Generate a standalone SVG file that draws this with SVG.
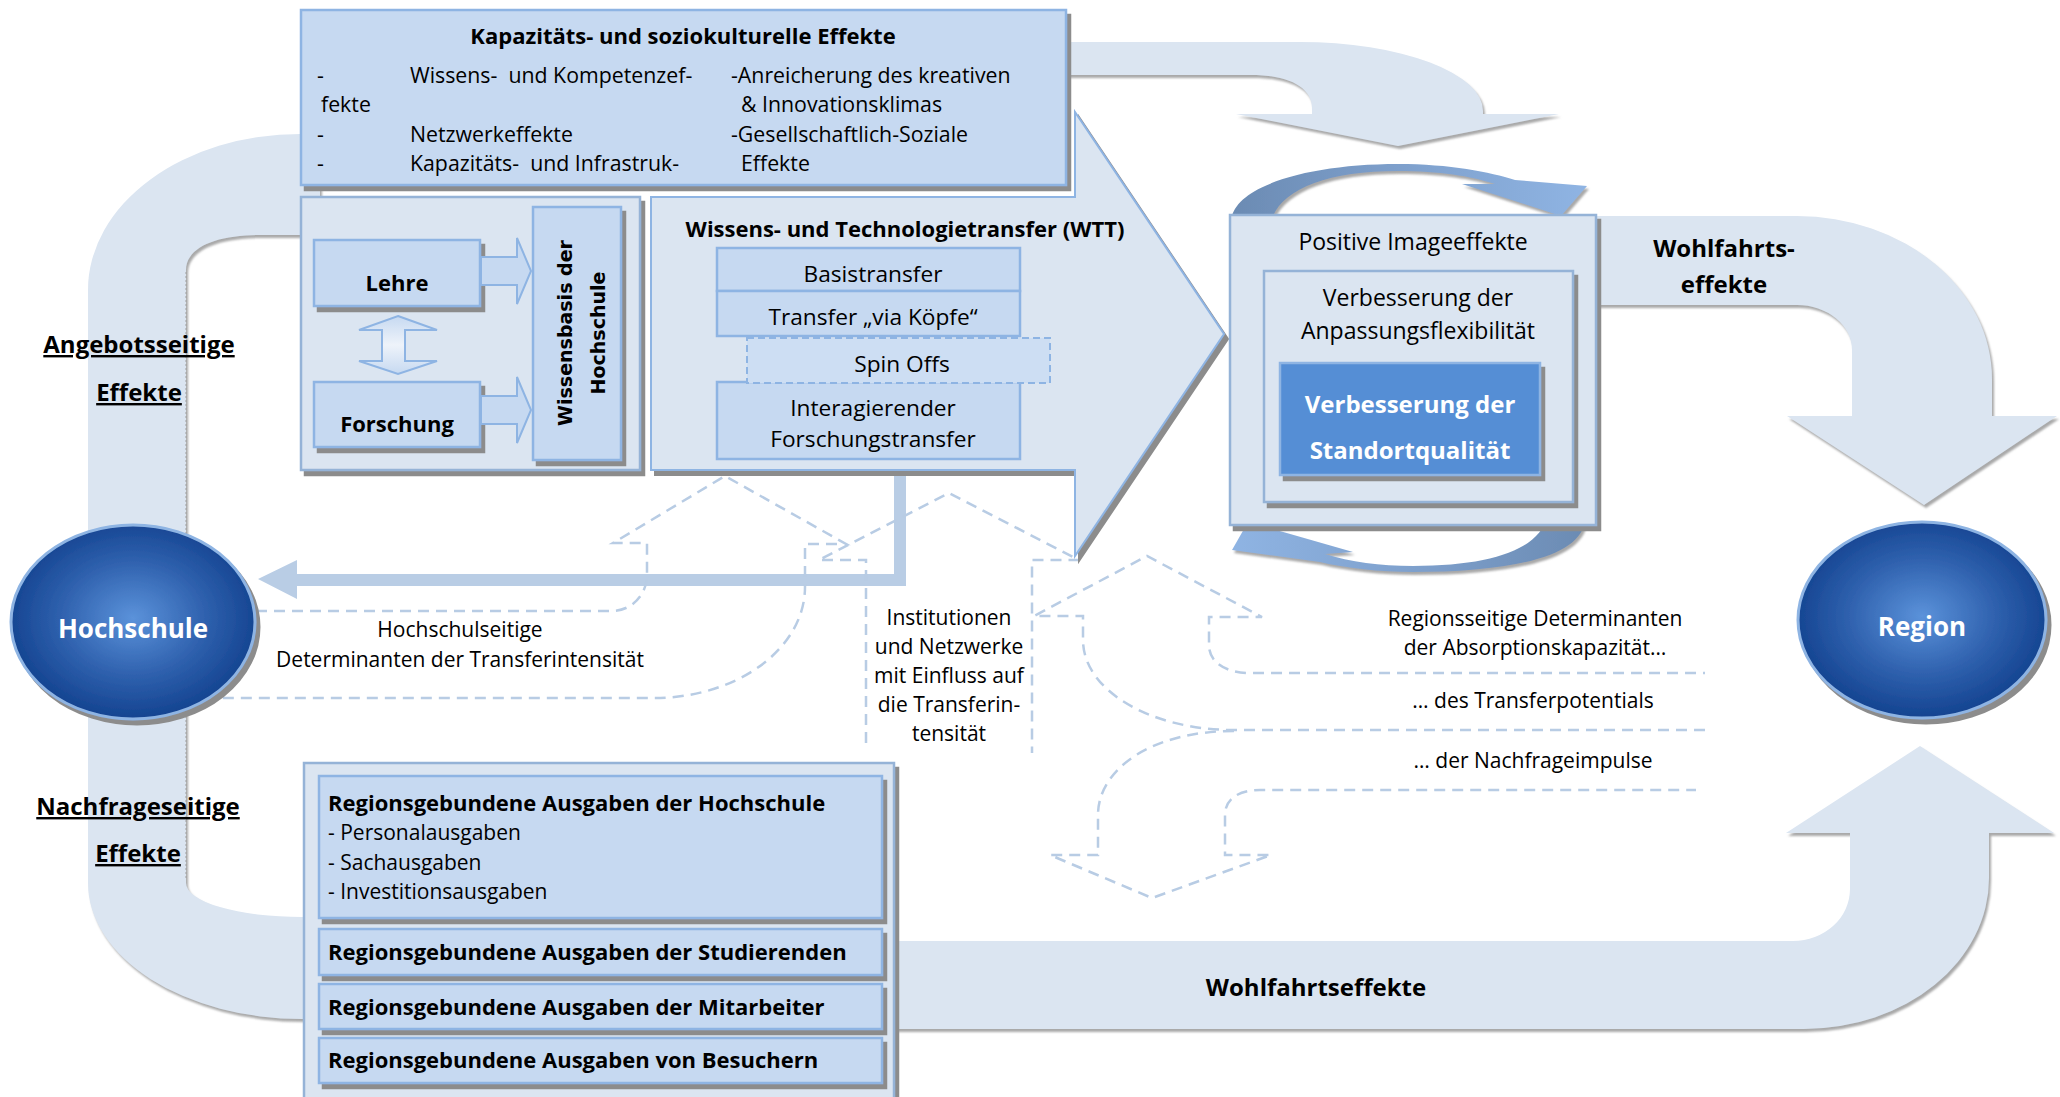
<svg xmlns="http://www.w3.org/2000/svg" width="2060" height="1097" viewBox="0 0 2060 1097">
<defs>
<style>
text{font-family:"Open Sans","Liberation Sans",sans-serif;fill:#000}
.b{font-weight:700}
.m{text-anchor:middle}
.w{fill:#fff}
.u{text-decoration:underline}
.band{fill:#dbe5f1;filter:url(#bs)}
.box{fill:#c6d9f1;stroke:#8eb4e3;stroke-width:2.5;filter:url(#sh)}
.cont{fill:#dbe5f1;stroke:#95b3d7;stroke-width:2.5;filter:url(#sh)}
.sub{fill:#c6d9f1;stroke:#8eb4e3;stroke-width:2.5}
.dash{fill:none;stroke:#b8cce4;stroke-width:2.5;stroke-dasharray:11 7}
.ell{fill:url(#eg);stroke:#8eb4e3;stroke-width:3;filter:url(#sh)}
.blk{fill:#c6d9f1;stroke:#8eb4e3;stroke-width:2}
</style>
<filter id="sh" x="-10%" y="-10%" width="125%" height="130%"><feDropShadow dx="4" dy="5" stdDeviation="0.7" flood-color="#8c8c8c"/></filter>
<filter id="bs" x="-5%" y="-5%" width="115%" height="115%"><feDropShadow dx="2" dy="3" stdDeviation="0.8" flood-color="#9a9a9a" flood-opacity="0.85"/></filter>
<radialGradient id="eg" cx="50%" cy="48%" r="55%"><stop offset="0" stop-color="#5b92da"/><stop offset="0.55" stop-color="#2e60ad"/><stop offset="1" stop-color="#103f8c"/></radialGradient>
<linearGradient id="ct" x1="0" y1="0" x2="1" y2="0"><stop offset="0" stop-color="#6b8bb3"/><stop offset="0.45" stop-color="#7d9fcb"/><stop offset="1" stop-color="#8fb4e3"/></linearGradient>
<linearGradient id="cb" x1="0" y1="0" x2="1" y2="0"><stop offset="0" stop-color="#8fb4e3"/><stop offset="0.55" stop-color="#7d9fcb"/><stop offset="1" stop-color="#6b8bb3"/></linearGradient>
<linearGradient id="da" x1="0" y1="0" x2="0" y2="1"><stop offset="0" stop-color="#c6d9f1"/><stop offset="0.5" stop-color="#eef3fa"/><stop offset="1" stop-color="#c6d9f1"/></linearGradient>
</defs>
<rect width="2060" height="1097" fill="#fff"/>

<g id="connectors">
  <!-- left U band -->
  <path class="band" d="M320,134 H300 A212 156 0 0 0 88,290 V883 A214 136 0 0 0 302,1019 H320 V917 H302 A116 34 0 0 1 186,883 V270 C186,248 215,235 260,235 H320 Z"/>
  <line x1="186" y1="272" x2="186" y2="880" stroke="#a0a0a0" stroke-width="1" stroke-dasharray="2 2"/>
  <!-- bottom Wohlfahrtseffekte band to Region -->
  <path class="band" d="M880,941 H1793 A57 52 0 0 0 1850,889 V833 H1786 L1920,746 L2054,833 H1989 V878 A185 151 0 0 1 1804,1029 H880 Z"/>
  <!-- top arrow to image effects -->
  <path class="band" d="M1050,42 H1300 A183 69 0 0 1 1483,111 V114 H1559 L1398,146 L1236,114 H1312 V108 C1312,88 1290,75 1250,75 H1050 Z"/>
  <!-- right Wohlfahrts arrow to Region -->
  <path class="band" d="M1590,216 H1797 A195 163 0 0 1 1992,379 V416 H2057 L1924,505 L1787,416 H1852 V350 A55 45 0 0 0 1797,305 H1590 Z"/>
  <!-- feedback arrow WTT -> Hochschule -->
  <path d="M894,468 H906 V586 H297 V599 L258,579 L297,560 V574 H894 Z" fill="#b9cde5"/>
  <!-- dashed determinant arrows -->
  <path class="dash" d="M256,611 H612 A35 36 0 0 0 647,575 V543 H613 L725,476 L846,544 H805 V587 A151 111 0 0 1 654,698 H212"/>
  <path class="dash" d="M866,743 V560 H819 L949,493 L1079,560 H1032 V753"/>
  <path class="dash" d="M1705,730 H1234 C1150,730 1083,690 1083,640 V616 H1034 L1147,556 L1262,617 H1209 V645 C1209,662 1225,673 1250,673 H1705"/>
  <path class="dash" d="M1234,731 C1150,731 1098,770 1098,815 V855 H1050 L1152,898 L1271,855 H1225 V815 C1225,798 1240,790 1260,790 H1696"/>
  <!-- circular arrows around image box -->
  <path d="M1232,216 C1240,185 1310,164 1398,164 C1450,164 1490,172 1515,180 L1587,186 L1561,216 L1462,184 L1495,184 C1470,176 1440,171 1398,171 C1330,171 1285,188 1273,216 Z" fill="url(#ct)" filter="url(#bs)"/>
  <path d="M1585,521 C1580,560 1500,572 1413,572 C1380,572 1345,568 1320,562 L1232,550 L1248,522 L1353,552 L1325,554 C1350,562 1380,566 1413,566 C1490,566 1535,550 1546,521 Z" fill="url(#cb)" filter="url(#bs)"/>
</g>

<g id="capacity-effects">
  <rect class="box" x="301" y="10" width="765" height="175"/>
  <text class="b m" x="683" y="44" font-size="22">Kapazitäts- und soziokulturelle Effekte</text>
  <g font-size="21.3">
    <text x="317" y="83">-</text><text x="410" y="83">Wissens-&#160; und Kompetenzef-</text><text x="731" y="83">-Anreicherung des kreativen</text>
    <text x="321" y="112">fekte</text><text x="741" y="112">&amp; Innovationsklimas</text>
    <text x="317" y="142">-</text><text x="410" y="142">Netzwerkeffekte</text><text x="731" y="142">-Gesellschaftlich-Soziale</text>
    <text x="317" y="171">-</text><text x="410" y="171">Kapazitäts-&#160; und Infrastruk-</text><text x="741" y="171">Effekte</text>
  </g>
</g>

<g id="knowledge-base">
  <rect class="cont" x="301" y="197" width="339" height="273"/>
  <rect class="box" x="314" y="240" width="166" height="66"/>
  <text class="b m" x="397" y="291" font-size="22">Lehre</text>
  <rect class="box" x="314" y="382" width="166" height="65"/>
  <text class="b m" x="397" y="432" font-size="22">Forschung</text>
  <rect class="box" x="533" y="207" width="88" height="253"/>
  <text class="m" transform="translate(572,333) rotate(-90)" style="font-family:'DejaVu Sans',sans-serif;font-weight:700;font-size:19px">Wissensbasis der</text>
  <text class="m" transform="translate(605,333) rotate(-90)" style="font-family:'DejaVu Sans',sans-serif;font-weight:700;font-size:19px">Hochschule</text>
  <path class="blk" d="M481,257 H517 V238 L531,271 L517,304 V285 H481 Z"/>
  <path class="blk" d="M481,396 H517 V377 L531,410 L517,443 V424 H481 Z"/>
  <path d="M398,316 L437,330 H405 V361 H437 L398,374 L359,361 H382 V330 H359 Z" fill="url(#da)" stroke="#8eb4e3" stroke-width="2"/>
</g>

<g id="wtt">
  <path d="M651,197 H1075 V112 L1224,334 L1075,556 V470 H651 Z" fill="#dbe5f1" stroke="#8eb4e3" stroke-width="2" filter="url(#sh)"/>
  <text class="b m" x="905" y="237" font-size="22">Wissens- und Technologietransfer (WTT)</text>
  <rect class="sub" x="717" y="248" width="303" height="43"/>
  <rect class="sub" x="717" y="291" width="303" height="45"/>
  <rect class="sub" x="717" y="382" width="303" height="77"/>
  <rect x="747" y="338" width="303" height="45" fill="#cddef3" stroke="#8eb4e3" stroke-width="2" stroke-dasharray="7 4"/>
  <g font-size="22.7">
    <text class="m" x="873" y="282">Basistransfer</text>
    <text class="m" x="873" y="325">Transfer „via Köpfe“</text>
    <text class="m" x="902" y="372">Spin Offs</text>
    <text class="m" x="873" y="416">Interagierender</text>
    <text class="m" x="873" y="447">Forschungstransfer</text>
  </g>
</g>

<g id="image-effects">
  <rect class="cont" x="1230" y="215" width="366" height="310" stroke="#8eb4e3"/>
  <text class="m" x="1413" y="250" font-size="23">Positive Imageeffekte</text>
  <rect class="cont" x="1264" y="271" width="309" height="231" stroke="#8eb4e3"/>
  <text class="m" x="1418" y="306" font-size="23">Verbesserung der</text>
  <text class="m" x="1418" y="339" font-size="23">Anpassungsflexibilität</text>
  <rect x="1280" y="363" width="260" height="112" fill="#558ed5" stroke="#8eb4e3" stroke-width="2.5" filter="url(#sh)"/>
  <text class="b m w" x="1410" y="413" font-size="24">Verbesserung der</text>
  <text class="b m w" x="1410" y="459" font-size="24">Standortqualität</text>
</g>

<g id="hochschule">
  <ellipse class="ell" cx="133" cy="622" rx="122" ry="97"/>
  <text class="b m w" x="133" y="638" font-size="26">Hochschule</text>
</g>

<g id="region">
  <ellipse class="ell" cx="1922" cy="620" rx="124" ry="98"/>
  <text class="b m w" x="1922" y="636" font-size="26">Region</text>
</g>

<g id="expenditures">
  <rect class="cont" x="304" y="763" width="590" height="345"/>
  <rect class="box" x="319" y="776" width="563" height="142"/>
  <rect class="box" x="319" y="929" width="563" height="46"/>
  <rect class="box" x="319" y="984" width="563" height="45"/>
  <rect class="box" x="319" y="1038" width="563" height="45"/>
  <text class="b" x="328" y="811" font-size="22">Regionsgebundene Ausgaben der Hochschule</text>
  <text x="328" y="840" font-size="21">- Personalausgaben</text>
  <text x="328" y="870" font-size="21">- Sachausgaben</text>
  <text x="328" y="899" font-size="21">- Investitionsausgaben</text>
  <text class="b" x="328" y="960" font-size="22">Regionsgebundene Ausgaben der Studierenden</text>
  <text class="b" x="328" y="1015" font-size="22">Regionsgebundene Ausgaben der Mitarbeiter</text>
  <text class="b" x="328" y="1068" font-size="22">Regionsgebundene Ausgaben von Besuchern</text>
</g>

<g id="labels">
  <text class="b m u" x="139" y="353" font-size="24">Angebotsseitige</text>
  <text class="b m u" x="139" y="401" font-size="24">Effekte</text>
  <text class="b m u" x="138" y="815" font-size="24">Nachfrageseitige</text>
  <text class="b m u" x="138" y="862" font-size="24">Effekte</text>
  <text class="b m" x="1724" y="257" font-size="24">Wohlfahrts-</text>
  <text class="b m" x="1724" y="293" font-size="24">effekte</text>
  <text class="b m" x="1316" y="996" font-size="24">Wohlfahrtseffekte</text>
  <g font-size="21">
    <text class="m" x="460" y="637">Hochschulseitige</text>
    <text class="m" x="460" y="667">Determinanten der Transferintensität</text>
    <text class="m" x="949" y="625">Institutionen</text>
    <text class="m" x="949" y="654">und Netzwerke</text>
    <text class="m" x="949" y="683">mit Einfluss auf</text>
    <text class="m" x="949" y="712">die Transferin-</text>
    <text class="m" x="949" y="741">tensität</text>
    <text class="m" x="1535" y="626">Regionsseitige Determinanten</text>
    <text class="m" x="1535" y="655">der Absorptionskapazität…</text>
    <text class="m" x="1533" y="708">… des Transferpotentials</text>
    <text class="m" x="1533" y="768">… der Nachfrageimpulse</text>
  </g>
</g>
</svg>
